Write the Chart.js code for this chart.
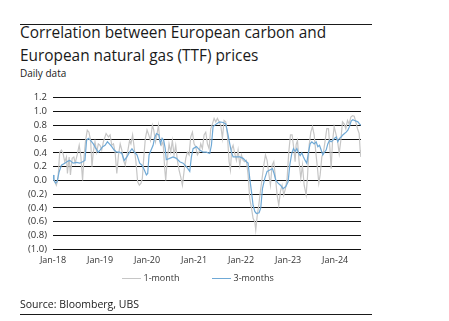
<!DOCTYPE html>
<html>
<head>
<meta charset="utf-8">
<script src="https://cdn.jsdelivr.net/npm/chart.js@4.4.0/dist/chart.umd.min.js"></script>
<style>
html,body{margin:0;padding:0;background:#fff;}
body{width:449px;height:321px;position:relative;overflow:hidden;font-family:"Open Sans",sans-serif;color:#1a1a1a;}
.rule{position:absolute;left:20px;width:352px;height:1px;background:#1a1a1a;}
#title{position:absolute;left:20px;top:20.6px;font-size:15.4px;line-height:23.4px;white-space:nowrap;}
#sub{position:absolute;left:20px;top:66.4px;font-size:10px;line-height:14px;white-space:nowrap;}
#wrap{position:absolute;left:20px;top:86px;width:354px;height:186px;}
#src{position:absolute;left:20px;top:296.5px;font-size:10.5px;line-height:14px;white-space:nowrap;}
.lg{position:absolute;top:272px;font-size:9px;line-height:12px;color:#333;white-space:nowrap;}
.lgline{position:absolute;top:278px;height:1px;width:19px;}
</style>
</head>
<body>
<div class="rule" style="top:24px"></div>
<div id="title">Correlation between European carbon and<br>European natural gas (TTF) prices</div>
<div id="sub">Daily data</div>
<div id="wrap"><canvas id="c" width="354" height="186"></canvas></div>
<div id="legend"></div>
<div id="src">Source: Bloomberg, UBS</div>
<div class="rule" style="top:314px"></div>
<script>
// ---- data (dates as decimal years) ----
const seriesNames = ['1-month', '3-months'];
const seriesColors = ['#c6c6c6', '#6fa9d6'];

const oneMonthDates = [
2018.000,2018.036,2018.071,2018.107,2018.143,2018.179,2018.214,2018.250,2018.286,2018.307,
2018.343,2018.371,2018.407,2018.443,2018.471,2018.514,2018.557,2018.593,2018.629,2018.657,
2018.693,2018.729,2018.764,2018.800,2018.829,2018.857,2018.893,2018.929,2018.964,2019.000,
2019.036,2019.071,2019.129,2019.179,2019.214,2019.250,2019.286,2019.321,2019.357,2019.393,
2019.429,2019.464,2019.500,2019.536,2019.586,2019.629,2019.657,2019.693,2019.729,2019.764,
2019.800,2019.836,2019.871,2019.900,2019.929,2019.964,2020.000,2020.036,2020.071,2020.114,
2020.143,2020.179,2020.214,2020.243,2020.271,2020.305,2020.340,2020.376,2020.397,2020.426,
2020.468,2020.504,2020.539,2020.574,2020.610,2020.645,2020.681,2020.716,2020.752,2020.787,
2020.823,2020.858,2020.894,2020.929,2020.965,2021.000,2021.035,2021.071,2021.106,2021.142,
2021.177,2021.213,2021.248,2021.284,2021.319,2021.355,2021.390,2021.426,2021.461,2021.496,
2021.532,2021.567,2021.603,2021.638,2021.674,2021.709,2021.745,2021.773,2021.801,2021.830,
2021.865,2021.901,2021.936,2021.972,2022.007,2022.043,2022.078,2022.113,2022.149,2022.184,
2022.220,2022.255,2022.291,2022.312,2022.340,2022.376,2022.411,2022.447,2022.482,2022.518,
2022.553,2022.589,2022.624,2022.660,2022.695,2022.730,2022.766,2022.801,2022.837,2022.872,
2022.908,2022.943,2022.979,2023.014,2023.050,2023.085,2023.114,2023.149,2023.171,2023.199,
2023.234,2023.270,2023.305,2023.341,2023.383,2023.412,2023.447,2023.483,2023.518,2023.554,
2023.589,2023.625,2023.653,2023.681,2023.717,2023.752,2023.788,2023.823,2023.859,2023.894,
2023.915,2023.944,2023.979,2024.015,2024.050,2024.086,2024.121,2024.156,2024.192,2024.227,
2024.263,2024.298,2024.334,2024.369,2024.405,2024.440,2024.476,2024.511,2024.532,2024.546
];
const oneMonthValues = [
0.05,-0.02,-0.07,0.03,0.41,0.44,0.39,0.27,0.34,0.10,
0.34,0.08,0.32,0.34,0.25,0.37,0.51,0.34,0.00,0.32,
0.58,0.73,0.70,0.58,0.20,0.41,0.56,0.41,0.53,0.51,
0.44,0.56,0.68,0.63,0.66,0.51,0.53,0.41,0.10,0.37,
0.53,0.44,0.29,0.22,0.41,0.58,0.53,0.66,0.46,0.27,
-0.02,-0.07,-0.04,0.03,0.32,0.61,0.73,0.66,0.58,0.80,
0.73,0.56,0.68,0.80,0.58,0.51,0.56,0.17,0.00,0.27,
0.53,0.41,0.58,0.37,0.51,0.29,0.15,0.05,-0.07,0.13,
0.32,0.41,0.37,0.63,0.70,0.53,0.49,0.37,0.41,0.53,
0.46,0.66,0.70,0.53,0.46,0.75,0.82,0.90,0.85,0.90,
0.85,0.80,0.61,0.87,0.85,0.66,0.27,0.15,0.46,0.51,
0.39,0.29,0.44,0.22,0.37,0.29,0.27,0.29,0.08,-0.26,
-0.40,-0.55,-0.60,-0.72,-0.53,-0.36,-0.16,0.03,0.22,0.37,
0.29,0.10,-0.07,0.22,0.27,0.05,-0.21,-0.36,-0.16,-0.07,
-0.21,-0.12,0.03,0.41,0.66,0.66,0.50,0.27,0.52,0.58,
0.27,0.03,0.22,-0.07,-0.21,0.05,0.51,0.70,0.78,0.66,
0.41,0.17,-0.04,0.08,0.34,0.41,0.58,0.75,0.75,0.41,
0.17,0.56,0.78,0.68,0.58,0.39,0.58,0.85,0.82,0.75,
0.87,0.82,0.92,0.94,0.93,0.85,0.75,0.68,0.44,0.34
];

const threeMonthDates = [
2018.000,2018.021,2018.057,2018.086,2018.129,2018.179,2018.250,2018.321,2018.357,2018.429,
2018.500,2018.571,2018.629,2018.679,2018.714,2018.750,2018.800,2018.857,2018.914,2018.964,
2019.000,2019.057,2019.107,2019.157,2019.200,2019.250,2019.300,2019.357,2019.414,2019.464,
2019.514,2019.571,2019.629,2019.679,2019.729,2019.786,2019.843,2019.893,2019.943,2019.986,
2020.014,2020.043,2020.086,2020.129,2020.157,2020.200,2020.250,2020.286,2020.320,2020.355,
2020.385,2020.410,2020.482,2020.553,2020.624,2020.695,2020.766,2020.837,2020.908,2020.943,
2020.979,2021.050,2021.121,2021.191,2021.262,2021.333,2021.369,2021.404,2021.475,2021.546,
2021.617,2021.674,2021.723,2021.759,2021.794,2021.830,2021.901,2021.972,2022.043,2022.113,
2022.149,2022.184,2022.220,2022.255,2022.291,2022.326,2022.383,2022.418,2022.454,2022.504,
2022.553,2022.610,2022.667,2022.702,2022.738,2022.787,2022.837,2022.894,2022.950,2023.000,
2023.035,2023.080,2023.114,2023.149,2023.185,2023.220,2023.255,2023.291,2023.326,2023.362,
2023.397,2023.433,2023.468,2023.504,2023.554,2023.596,2023.632,2023.667,2023.703,2023.738,
2023.773,2023.809,2023.844,2023.880,2023.915,2023.951,2023.986,2024.022,2024.057,2024.093,
2024.128,2024.163,2024.199,2024.234,2024.270,2024.305,2024.341,2024.376,2024.412,2024.447,
2024.483,2024.518,2024.546
];
const threeMonthValues = [
0.08,0.00,-0.04,-0.02,0.12,0.22,0.25,0.28,0.29,0.25,
0.26,0.25,0.27,0.29,0.58,0.61,0.58,0.53,0.46,0.41,
0.44,0.49,0.51,0.56,0.53,0.49,0.44,0.41,0.41,0.39,
0.29,0.34,0.41,0.46,0.41,0.37,0.25,0.22,0.15,0.08,
0.10,0.37,0.44,0.51,0.61,0.68,0.66,0.53,0.61,0.58,
0.47,0.30,0.32,0.34,0.32,0.27,0.25,0.20,0.13,0.34,
0.46,0.49,0.44,0.41,0.41,0.39,0.51,0.78,0.82,0.85,
0.84,0.82,0.66,0.53,0.41,0.34,0.34,0.34,0.32,0.27,
0.25,0.03,-0.16,-0.36,-0.45,-0.48,-0.47,-0.40,-0.12,0.03,
0.13,0.15,0.17,0.10,0.00,-0.04,-0.07,-0.12,-0.09,-0.02,
0.22,0.40,0.46,0.42,0.46,0.40,0.36,0.40,0.34,0.29,
0.25,0.41,0.53,0.56,0.53,0.56,0.49,0.51,0.44,0.37,
0.41,0.44,0.53,0.58,0.56,0.58,0.61,0.63,0.56,0.61,
0.63,0.66,0.68,0.70,0.73,0.78,0.86,0.88,0.87,0.86,
0.85,0.82,0.80
];

const xTickYears = [2018, 2019, 2020, 2021, 2022, 2023, 2024];
const yTickValues = [1.2, 1.0, 0.8, 0.6, 0.4, 0.2, 0.0, -0.2, -0.4, -0.6, -0.8, -1.0];

// ---- legend (HTML) ----
const legendPos = [[122, 143.5], [212, 233.5]];
const lg = document.getElementById('legend');
seriesNames.forEach((n, i) => {
  const l = document.createElement('div');
  l.className = 'lgline';
  l.style.left = legendPos[i][0] + 'px';
  l.style.background = seriesColors[i];
  lg.appendChild(l);
  const t = document.createElement('div');
  t.className = 'lg';
  t.style.left = legendPos[i][1] + 'px';
  t.textContent = n;
  lg.appendChild(t);
});

// ---- chart ----
Chart.defaults.font.family = '"Open Sans", sans-serif';
const toPts = (ds, vs) => ds.map((d, i) => ({x: d, y: vs[i]}));

new Chart(document.getElementById('c'), {
  type: 'line',
  data: {
    datasets: [
      {label: seriesNames[0], data: toPts(oneMonthDates, oneMonthValues), borderColor: seriesColors[0],
       borderWidth: 1.2, pointRadius: 0, tension: 0, fill: false, order: 2},
      {label: seriesNames[1], data: toPts(threeMonthDates, threeMonthValues), borderColor: seriesColors[1],
       borderWidth: 1.2, pointRadius: 0, tension: 0, fill: false, order: 1}
    ]
  },
  options: {
    responsive: false,
    animation: false,
    devicePixelRatio: 1,
    layout: {padding: {top: 11.3, right: 13, left: 0, bottom: 0}},
    plugins: {legend: {display: false}, tooltip: {enabled: false}, title: {display: false}},
    scales: {
      x: {
        type: 'linear', min: 2018, max: 2024.55,
        afterBuildTicks: s => { s.ticks = xTickYears.map(v => ({value: v})); },
        afterFit: s => { s.height = 22.7; },
        grid: {display: false, drawTicks: false}, border: {display: false},
        ticks: {font: {size: 9}, color: '#333', padding: 6, maxRotation: 0, autoSkip: false,
                callback: v => 'Jan-' + String(v).slice(2)}
      },
      y: {
        min: -1.0, max: 1.2,
        afterBuildTicks: s => { s.ticks = yTickValues.map(v => ({value: v})); },
        afterFit: s => { s.width = 33; },
        grid: {color: '#111', lineWidth: 1, drawTicks: false}, border: {display: false},
        ticks: {font: {size: 9.5}, color: '#333', padding: 6, autoSkip: false,
                callback: v => v < -0.001 ? '(' + Math.abs(v).toFixed(1) + ')' : Math.abs(v).toFixed(1)}
      }
    }
  }
});
</script>
</body>
</html>
